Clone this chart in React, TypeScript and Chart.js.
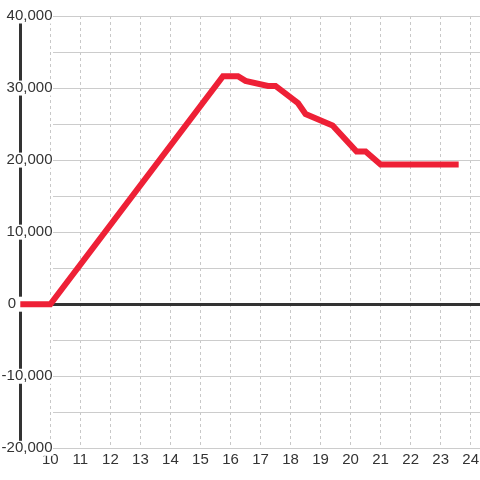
import React, { useEffect, useRef } from "react";
import { Chart, registerables } from "chart.js";

Chart.register(...registerables);

// ---- data ----
const xValues = [9, 10, 15.75, 16.25, 16.5, 17.25, 17.5, 18.25, 18.5, 19.4, 20.2, 20.5, 21, 23.5];
const yValues = [0, 0, 31650, 31650, 31000, 30300, 30300, 27900, 26400, 24800, 21200, 21200, 19400, 19400];
const xTickValues = [10, 11, 12, 13, 14, 15, 16, 17, 18, 19, 20, 21, 22, 23, 24];
const yTickValues = [-20000, -10000, 0, 10000, 20000, 30000, 40000];
const yGridValues = [-20000, -15000, -10000, -5000, 0, 5000, 10000, 15000, 20000, 25000, 30000, 35000, 40000];
const X_MIN = 9;
const X_MAX = 24.31;
const Y_MIN = -20000;
const Y_MAX = 40000;

const FONT = "'Liberation Sans', Arial, sans-serif";
const TEXT = "#333333";
const GRID_START = 53;

const hGridPlugin = {
  id: "hGrid",
  beforeDatasetsDraw(chart: any) {
    const { ctx, chartArea, scales } = chart;
    const y = scales.y;
    ctx.save();
    yGridValues.forEach((v) => {
      const py = Math.round(y.getPixelForValue(v)) + 0.5;
      const zero = v === 0;
      ctx.strokeStyle = zero ? "#333333" : "#cccccc";
      ctx.lineWidth = zero ? 3 : 1;
      ctx.beginPath();
      ctx.moveTo(GRID_START, py);
      ctx.lineTo(chartArea.right, py);
      ctx.stroke();
    });
    ctx.restore();
  },
};

export default function App() {
  const ref = useRef<HTMLCanvasElement>(null);
  useEffect(() => {
    if (!ref.current) return;
    const chart = new Chart(ref.current, {
      type: "line",
      data: {
        datasets: [
          {
            data: xValues.map((x, i) => ({ x, y: yValues[i] })),
            borderColor: "#ee2036",
            backgroundColor: "#ee2036",
            borderWidth: 6,
            borderCapStyle: "square",
            borderJoinStyle: "miter",
            pointRadius: 0,
            tension: 0,
            fill: false,
          },
        ],
      },
      options: {
        animation: false,
        responsive: false,
        maintainAspectRatio: false,
        layout: { padding: { top: 16, left: 0, right: 0, bottom: 0 } },
        plugins: { legend: { display: false }, tooltip: { enabled: false } },
        scales: {
          x: {
            type: "linear",
            min: X_MIN,
            max: X_MAX,
            afterBuildTicks: (s: any) => {
              s.ticks = xTickValues.map((v) => ({ value: v }));
            },
            afterFit: (s: any) => {
              s.height = 31.7;
              s.paddingLeft = 0;
              s.paddingRight = 0;
            },
            grid: { color: "#c8c8c8", drawTicks: false, lineWidth: 1 },
            border: { display: false, dash: [3, 3] },
            ticks: {
              padding: 3,
              color: TEXT,
              font: { family: FONT, size: 15 },
              maxRotation: 0,
              autoSkip: false,
              callback: (v: any) => String(v),
            },
          },
          y: {
            type: "linear",
            min: Y_MIN,
            max: Y_MAX,
            afterBuildTicks: (s: any) => {
              s.ticks = yTickValues.map((v) => ({ value: v }));
            },
            afterFit: (s: any) => {
              s.width = 20.3;
            },
            grid: { display: false, drawTicks: false },
            border: { display: true, color: "#333333", width: 3 },
            ticks: {
              mirror: true,
              crossAlign: "far",
              padding: -18.7,
              color: TEXT,
              font: { family: FONT, size: 15 },
              showLabelBackdrop: true,
              backdropColor: "#ffffff",
              backdropPadding: { top: -1.5, bottom: -1.5, left: 1, right: 1 },
              callback: (v: any) => {
                const n = Number(v);
                if (n === 0) return "0" + "        \u2009";
                return n.toLocaleString("en-US");
              },
            },
          },
        },
      },
      plugins: [hGridPlugin],
    } as any);
    return () => chart.destroy();
  }, []);
  return (
    <div style={{ position: "fixed", left: 0, top: 0, width: 480, height: 480, background: "#ffffff" }}>
      <canvas ref={ref} width={480} height={480} style={{ display: "block" }} />
    </div>
  );
}
